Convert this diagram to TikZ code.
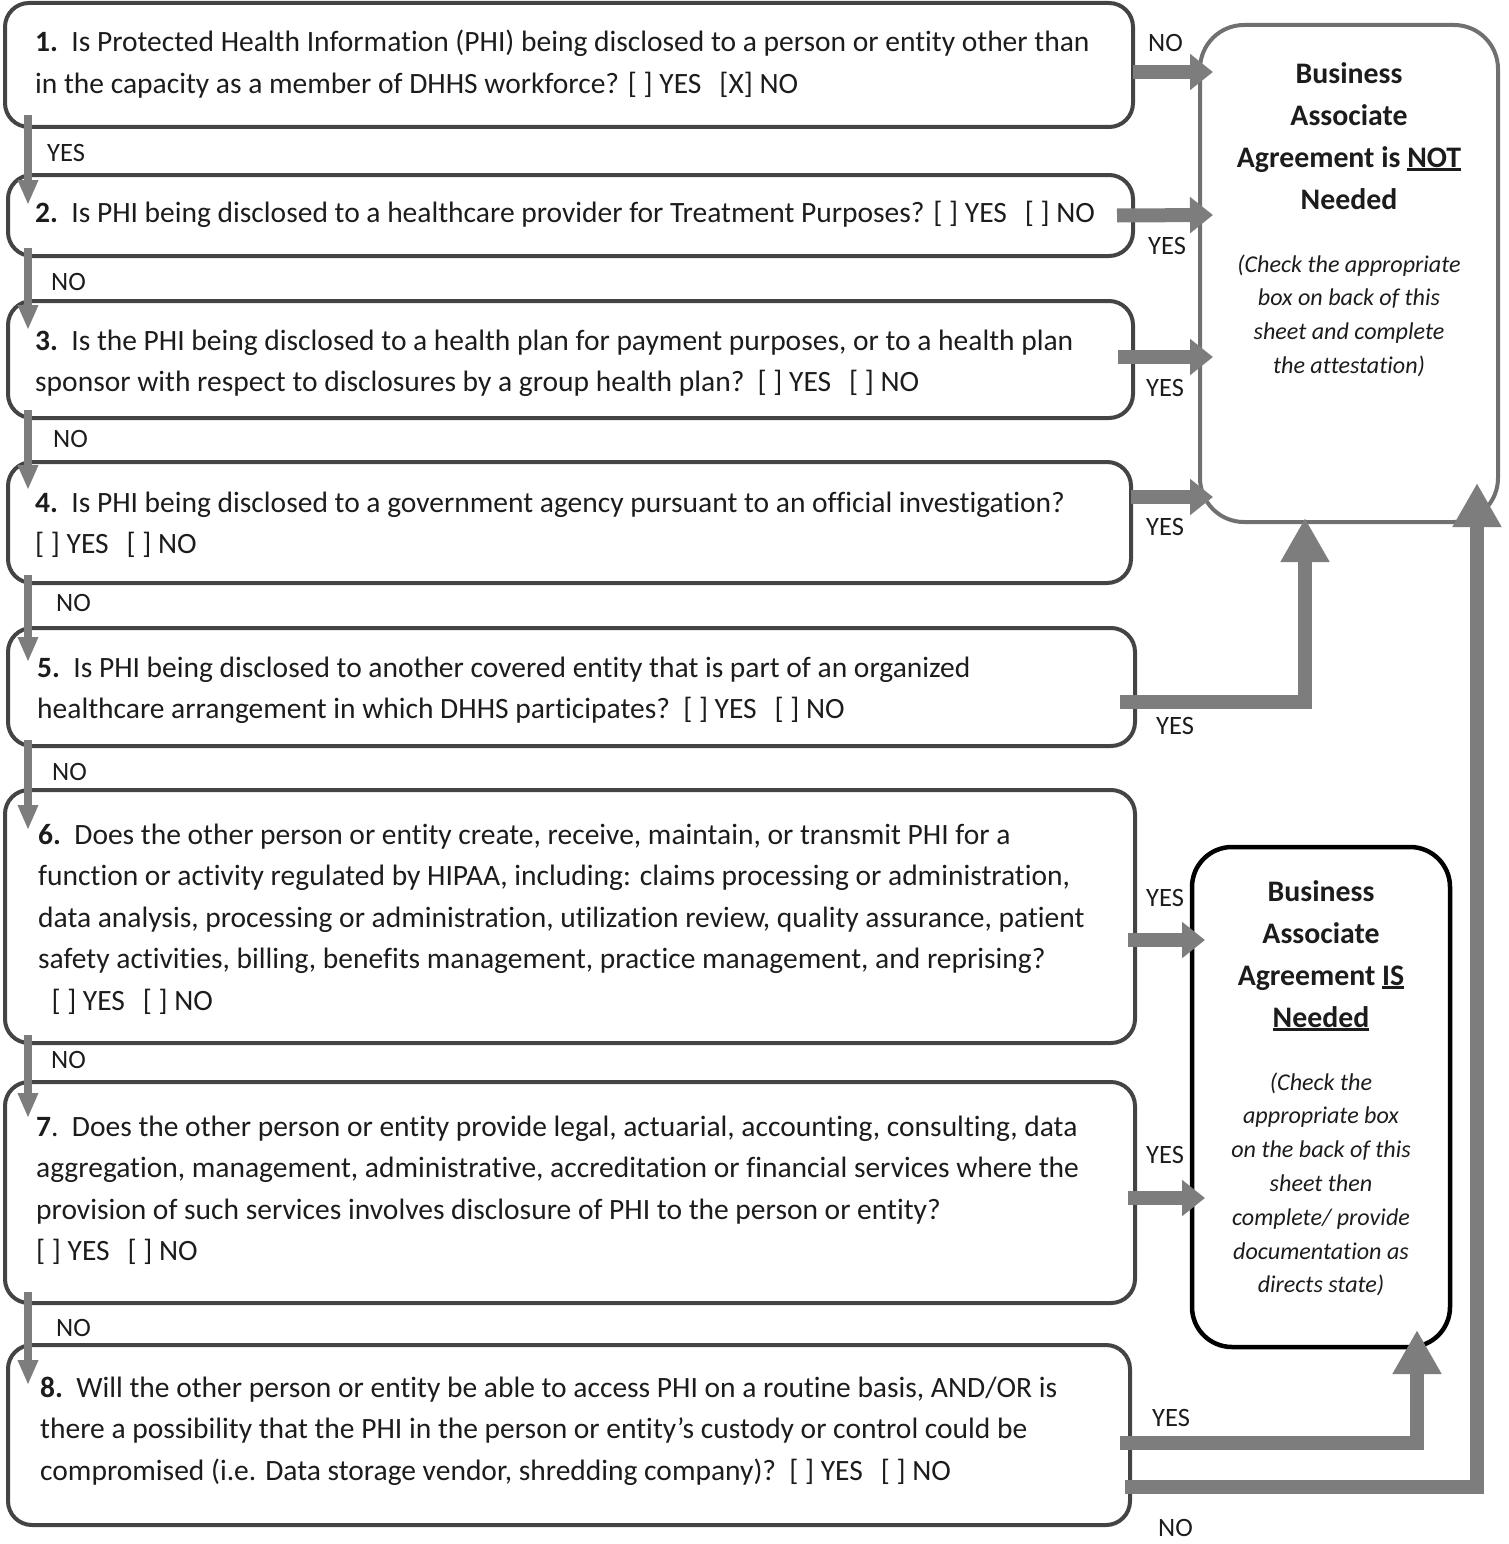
\documentclass[tikz,border=0pt]{standalone}
\usepackage{fontspec}
\setmainfont{Carlito}[Ligatures=NoCommon]
\usepackage{tikz}
\usetikzlibrary{arrows.meta}

\definecolor{boxline}{RGB}{68,68,68}
\definecolor{notline}{RGB}{112,112,112}
\definecolor{flowgray}{RGB}{125,125,125}
\definecolor{inkgray}{RGB}{28,28,28}

\newcommand\thickul[1]{\setbox0\hbox{#1}\rlap{\rule[-3.5pt]{\wd0}{2.2pt}}\box0}

\tikzset{
  qbox/.style={draw=boxline, line width=4pt, rounded corners=24pt, outer sep=0pt},
  outbox/.style={line width=4pt, rounded corners=44pt, outer sep=0pt},
  qtext/.style={anchor=base west, inner sep=0pt, align=left, text=inkgray, font=\fontsize{29.5}{41.5}\selectfont},
  flowlabel/.style={anchor=west, inner sep=0pt, text=inkgray, font=\fontsize{26.5}{30}\selectfont},
  outtitle/.style={anchor=base, inner sep=0pt, align=center, text=inkgray, font=\fontsize{29.8}{42}\selectfont\bfseries},
  outnote/.style={anchor=base, inner sep=0pt, align=center, text=inkgray, font=\fontsize{24.1}{33.8}\selectfont\itshape},
  downflow/.style={draw=flowgray, line width=7.5pt, -{Triangle[width=19pt,length=25pt]}},
  sideflow/.style={draw=flowgray, line width=14pt, -{Triangle[width=35pt,length=23pt]}},
  upflow/.style={draw=flowgray, line width=14pt, -{Triangle[width=46pt,length=44pt]}}
}

\begin{document}
\begin{tikzpicture}[x=1pt,y=1pt,yscale=-1]
\useasboundingbox (0,0) rectangle (1509,1544);

% question boxes
\node (q1) [qbox, minimum width=1128pt, minimum height=124pt] at (569,65) {};
\node (q2) [qbox, minimum width=1125pt, minimum height=81pt] at (570.5,215.5) {};
\node (q3) [qbox, minimum width=1125pt, minimum height=117pt] at (570.5,359.5) {};
\node (q4) [qbox, minimum width=1123pt, minimum height=121pt] at (569.5,522.5) {};
\node (q5) [qbox, minimum width=1127pt, minimum height=118pt] at (571.5,687) {};
\node (q6) [qbox, minimum width=1130pt, minimum height=253pt] at (570,916.5) {};
\node (q7) [qbox, minimum width=1130pt, minimum height=221pt] at (570,1192.5) {};
\node (q8) [qbox, minimum width=1122pt, minimum height=180pt] at (569,1435) {};

% outcome boxes
\node (notneeded) [outbox, draw=notline, minimum width=298pt, minimum height=497pt] at (1349,273.5) {};
\node (isneeded) [outbox, draw=black, line width=4.5pt, rounded corners=40pt, minimum width=258pt, minimum height=500pt] at (1321,1097) {};

% Text Node (placed at the baseline of the last line)
\node (t1) [qtext] at (35,93.5) {\textbf{1.}\ \ Is Protected Health Information (PHI) being disclosed to a person or entity other than\\in the capacity as a member of DHHS workforce? [ ] YES\hspace{18pt}[X] NO};
% Text Node
\node (t2) [qtext] at (35,222) {\textbf{2.}\ \ Is PHI being disclosed to a healthcare provider for Treatment Purposes? [ ] YES\hspace{18pt}[ ] NO};
% Text Node
\node (t3) [qtext] at (35,391.5) {\textbf{3.}\ \ Is the PHI being disclosed to a health plan for payment purposes, or to a health plan\\sponsor with respect to disclosures by a group health plan?\ \ [ ] YES\hspace{18pt}[ ] NO};
% Text Node
\node (t4) [qtext] at (35,553.5) {\textbf{4.}\ \ Is PHI being disclosed to a government agency pursuant to an official investigation?\\{}[ ] YES\hspace{18pt}[ ] NO};
% Text Node
\node (t5) [qtext] at (37,718.5) {\textbf{5.}\ \ Is PHI being disclosed to another covered entity that is part of an organized\\healthcare arrangement in which DHHS participates?\ \ [ ] YES\hspace{18pt}[ ] NO};
% Text Node
\node (t6) [qtext] at (38,1010) {\textbf{6.}\ \ Does the other person or entity create, receive, maintain, or transmit PHI for a\\function or activity regulated by HIPAA, including: claims processing or administration,\\data analysis, processing or administration, utilization review, quality assurance, patient\\safety activities, billing, benefits management, practice management, and reprising?\\\ \ [ ] YES\hspace{18pt}[ ] NO};
% Text Node
\node (t7) [qtext] at (36,1260.5) {\textbf{7}.\ \ Does the other person or entity provide legal, actuarial, accounting, consulting, data\\aggregation, management, administrative, accreditation or financial services where the\\provision of such services involves disclosure of PHI to the person or entity?\\{}[ ] YES\hspace{18pt}[ ] NO};
% Text Node
\node (t8) [qtext] at (40,1480) {\textbf{8.}\ \ Will the other person or entity be able to access PHI on a routine basis, AND/OR is\\there a possibility that the PHI in the person or entity's custody or control could be\\compromised (i.e. Data storage vendor, shredding company)?\ \ [ ] YES\hspace{18pt}[ ] NO};

% Text Node
\node (nottitle) [outtitle] at (1349,209) {Business\\Associate\\Agreement is \thickul{NOT}\\Needed};
\node (notnote) [outnote] at (1349,373.4) {(Check the appropriate\\box on back of this\\sheet and complete\\the attestation)};
% Text Node
\node (istitle) [outtitle] at (1321,1027) {Business\\Associate\\Agreement \thickul{IS}\\\thickul{Needed}};
\node (isnote) [outnote] at (1321,1292.8) {(Check the\\appropriate box\\on the back of this\\sheet then\\complete/ provide\\documentation as\\directs state)};

% down connectors
\draw [downflow] ([xshift=23pt,yshift=-12pt]q1.south west) -- ([xshift=20pt,yshift=30pt]q2.north west);
\draw [downflow] ([xshift=20pt,yshift=-8pt]q2.south west) -- ([xshift=20pt,yshift=29pt]q3.north west);
\draw [downflow] ([xshift=20pt,yshift=-8pt]q3.south west) -- ([xshift=20pt,yshift=28pt]q4.north west);
\draw [downflow] ([xshift=20pt,yshift=-8pt]q4.south west) -- ([xshift=20pt,yshift=34pt]q5.north west);
\draw [downflow] ([xshift=20pt,yshift=-6pt]q5.south west) -- ([xshift=23pt,yshift=40pt]q6.north west);
\draw [downflow] ([xshift=23pt,yshift=-8pt]q6.south west) -- ([xshift=23pt,yshift=36pt]q7.north west);
\draw [downflow] ([xshift=23pt,yshift=-11pt]q7.south west) -- ([xshift=20pt,yshift=40pt]q8.north west);

% side connectors
\draw [sideflow] ([yshift=7pt]q1.east) -- ([xshift=13pt,yshift=-201.5pt]notneeded.west);
\draw [sideflow] ([xshift=-16pt]q2.east) -- ([xshift=13pt,yshift=-58.5pt]notneeded.west);
\draw [sideflow] ([xshift=-15pt,yshift=-2.5pt]q3.east) -- ([xshift=13pt,yshift=83.5pt]notneeded.west);
\draw [sideflow] ([yshift=-25.5pt]q4.east) -- ([xshift=13pt,yshift=223.5pt]notneeded.west);
\draw [upflow] ([xshift=-15pt,yshift=15pt]q5.east) -| ([xshift=-44pt,yshift=-4pt]notneeded.south);
\draw [sideflow] ([xshift=-7pt,yshift=23.5pt]q6.east) -- ([xshift=13pt,yshift=-157pt]isneeded.west);
\draw [sideflow] ([xshift=-7pt,yshift=5.5pt]q7.east) -- ([xshift=13pt,yshift=101pt]isneeded.west);
\draw [upflow] ([xshift=-10pt,yshift=8pt]q8.east) -| ([xshift=96pt,yshift=-17pt]isneeded.south);
\draw [upflow] ([xshift=-5pt,yshift=52pt]q8.east) -| ([xshift=-21pt,yshift=-39pt]notneeded.south east);

% labels
\node (lyes1) [flowlabel] at (47,153) {YES};
\node (lno2) [flowlabel] at (51,282) {NO};
\node (lno3) [flowlabel] at (53,439) {NO};
\node (lno4) [flowlabel] at (56,603) {NO};
\node (lno5) [flowlabel] at (52,772) {NO};
\node (lno6) [flowlabel] at (51,1060) {NO};
\node (lno7) [flowlabel] at (56,1328) {NO};
\node (rno1) [flowlabel] at (1148,43) {NO};
\node (ryes2) [flowlabel] at (1148,246) {YES};
\node (ryes3) [flowlabel] at (1146,388) {YES};
\node (ryes4) [flowlabel] at (1146,527) {YES};
\node (ryes5) [flowlabel] at (1156,726) {YES};
\node (ryes6) [flowlabel] at (1146,898) {YES};
\node (ryes7) [flowlabel] at (1146,1155) {YES};
\node (ryes8) [flowlabel] at (1152,1418) {YES};
\node (rno8) [flowlabel] at (1158,1528) {NO};

\end{tikzpicture}
\end{document}
